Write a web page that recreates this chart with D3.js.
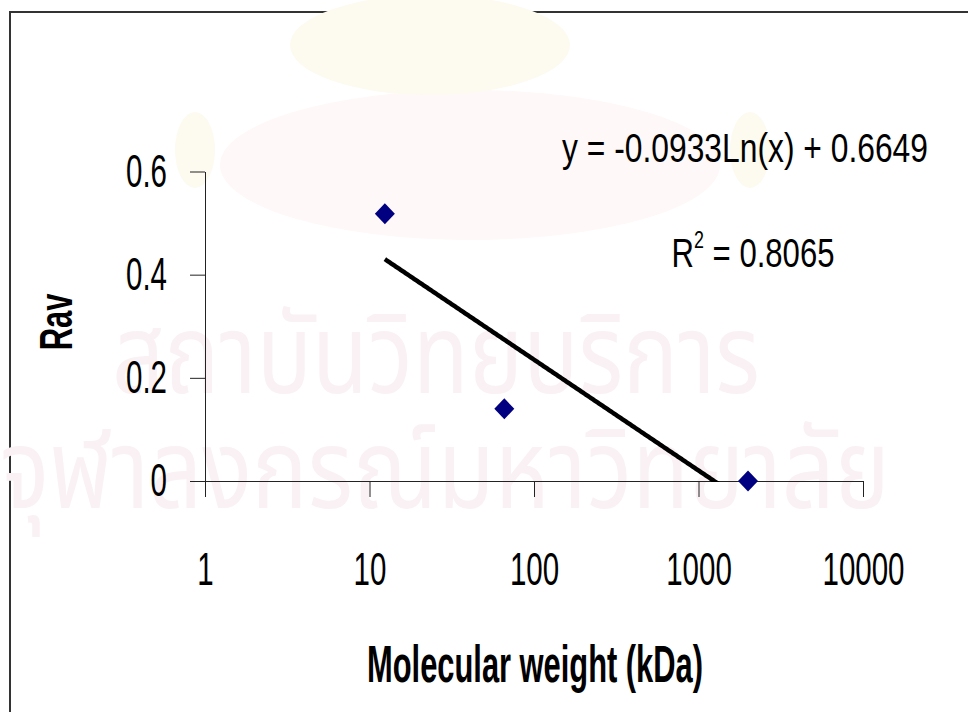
<!DOCTYPE html>
<html>
<head>
<meta charset="utf-8">
<script src="https://cdn.jsdelivr.net/npm/d3@7"></script>
<style>
  html, body { margin: 0; padding: 0; background: #fff; }
  svg { display: block; }
  text { font-family: "Liberation Sans Narrow", "Arial Narrow", "Liberation Sans", Arial, sans-serif; }
</style>
</head>
<body>
<svg id="chart" width="968" height="712"></svg>
<script>
// Gel filtration calibration: partition coefficient vs. molecular weight
const molecularWeightKDa = [12.4, 66, 2000];
const ravValues = [0.518, 0.14, 0];
const xTickValues = [1, 10, 100, 1000, 10000];
const yTickValues = [0, 0.2, 0.4, 0.6];
const fitSlope = -0.0933;      // coefficient of Ln(x)
const fitIntercept = 0.6649;
const fitRSquared = 0.8065;
const xTitle = "Molecular weight (kDa)";
const yTitle = "Rav";
const watermarkLines = ["สถาบันวิทยบริการ", "จุฬาลงกรณ์มหาวิทยาลัย"];

const svg = d3.select("#chart");

const x = d3.scaleLog().domain([1, 10000]).range([205, 863]);
const y = d3.scaleLinear().domain([0, 0.6]).range([481, 171.5]);

// horizontal squeeze factor that makes a text element span targetWidth
function condense(sel, targetWidth) {
  const w = sel.node().getBBox().width;
  return targetWidth / w;
}

// outer frame
svg.append("rect")
  .attr("x", 10).attr("y", 12).attr("width", 1000).attr("height", 1000)
  .attr("fill", "#fff").attr("stroke", "#333").attr("stroke-width", 2);

// faint library watermark behind the plot
const wm = svg.append("g").attr("class", "watermark");
wm.append("ellipse").attr("cx", 470).attr("cy", 165).attr("rx", 250).attr("ry", 75).attr("fill", "#fef8f8");
wm.append("ellipse").attr("cx", 430).attr("cy", 45).attr("rx", 140).attr("ry", 50).attr("fill", "#fdfaf0");
wm.append("ellipse").attr("cx", 195).attr("cy", 150).attr("rx", 20).attr("ry", 38).attr("fill", "#fdfaf0");
wm.append("ellipse").attr("cx", 750).attr("cy", 150).attr("rx", 20).attr("ry", 38).attr("fill", "#fdfaf0");
const wmFont = "'Noto Sans Thai', 'Noto Sans', 'DejaVu Sans', sans-serif";
wm.append("text").text(watermarkLines[0])
  .attr("x", 112).attr("y", 393)
  .attr("font-size", 110).attr("fill", "#faf1f5")
  .style("font-family", wmFont)
  .attr("textLength", 648).attr("lengthAdjust", "spacingAndGlyphs");
wm.append("text").text(watermarkLines[1])
  .attr("x", 0).attr("y", 508)
  .attr("font-size", 110).attr("fill", "#faf1f5")
  .style("font-family", wmFont)
  .attr("textLength", 890).attr("lengthAdjust", "spacingAndGlyphs");

// axes
const xAxis = d3.axisBottom(x)
  .tickValues(xTickValues)
  .tickSize(16).tickSizeOuter(0).tickPadding(55)
  .tickFormat(d3.format("d"));
const yAxis = d3.axisLeft(y)
  .tickValues(yTickValues)
  .tickSize(15).tickSizeOuter(0).tickPadding(23)
  .tickFormat(d => d === 0 ? "0" : d3.format(".1f")(d));

const gx = svg.append("g").attr("transform", "translate(0,481)").call(xAxis);
const gy = svg.append("g").attr("transform", "translate(205,0)").call(yAxis);

[gx, gy].forEach(g => {
  g.selectAll(".domain, .tick line").attr("stroke", "#222").attr("stroke-width", 1);
  g.selectAll(".tick text")
    .attr("font-size", 46).attr("fill", "#000")
    .style("font-family", "'Liberation Sans Narrow', 'Arial Narrow', 'Liberation Sans', sans-serif");
});

// condense tick labels to the narrow face
const refLabel = gx.selectAll(".tick text").filter(d => d === 10000);
const kTick = condense(refLabel, 82);
gx.selectAll(".tick text").attr("transform", `scale(${kTick},1)`);
gy.selectAll(".tick text")
  .attr("x", -38 / kTick)
  .attr("transform", `scale(${kTick},1)`);

// clip region for the trend line
svg.append("clipPath").attr("id", "plotClip")
  .append("rect").attr("x", 205).attr("y", 150).attr("width", 658).attr("height", 332);

// logarithmic trend line over the span of the data
const lnMin = Math.log(d3.min(molecularWeightKDa));
const lnMax = Math.log(d3.max(molecularWeightKDa));
const fitPoints = d3.range(0, 301).map(i => {
  const lx = lnMin + (lnMax - lnMin) * i / 300;
  return [Math.exp(lx), fitSlope * lx + fitIntercept];
});
const line = d3.line().x(d => x(d[0])).y(d => y(Math.max(d[1], -0.02)));
svg.append("path")
  .datum(fitPoints)
  .attr("clip-path", "url(#plotClip)")
  .attr("d", line)
  .attr("fill", "none")
  .attr("stroke", "#000")
  .attr("stroke-width", 4.5)
  .attr("stroke-linejoin", "round");

// data markers (diamonds)
const diamond = "M0,-10.5L10,0L0,10.5L-10,0Z";
svg.append("g").selectAll("path")
  .data(molecularWeightKDa.map((m, i) => ({ m, r: ravValues[i] })))
  .join("path")
  .attr("d", diamond)
  .attr("transform", d => `translate(${x(d.m)},${y(d.r)})`)
  .attr("fill", "#000080");

// trend line equation and R²
const eq = svg.append("text")
  .attr("text-anchor", "middle")
  .attr("font-size", 40).attr("fill", "#000")
  .text(`y = ${fitSlope}Ln(x) + ${fitIntercept}`);
const kEq = condense(eq, 366);
eq.attr("transform", `translate(745,162) scale(${kEq},1)`);

const r2 = svg.append("text")
  .attr("text-anchor", "middle")
  .attr("font-size", 40).attr("fill", "#000");
r2.append("tspan").text("R");
r2.append("tspan").attr("font-size", 23).attr("dy", -19).text("2");
r2.append("tspan").attr("dy", 19).text(` = ${fitRSquared}`);
const kR2 = condense(r2, 163);
r2.attr("transform", `translate(753,267) scale(${kR2},1)`);

// axis titles
const xt = svg.append("text")
  .attr("text-anchor", "middle")
  .attr("font-size", 51).attr("font-weight", "bold").attr("fill", "#000")
  .text(xTitle);
const kXt = condense(xt, 336);
xt.attr("transform", `translate(535,682) scale(${kXt},1)`);

const yt = svg.append("text")
  .attr("text-anchor", "middle")
  .attr("font-size", 46).attr("font-weight", "bold").attr("fill", "#000")
  .text(yTitle);
const kYt = condense(yt, 57);
yt.attr("transform", `translate(72,322) rotate(-90) scale(${kYt},1)`);
</script>
</body>
</html>
